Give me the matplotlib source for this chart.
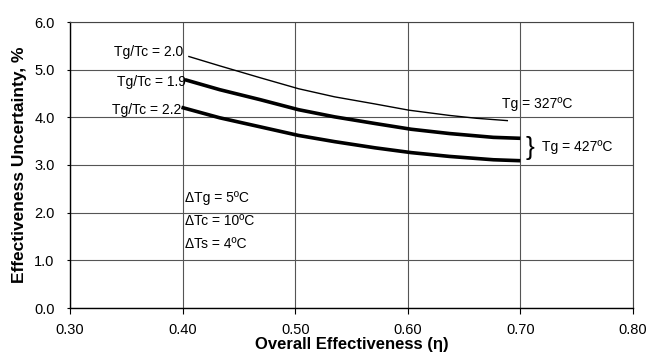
import matplotlib
matplotlib.use("Agg")
import matplotlib.pyplot as plt

plt.rcParams['font.family'] = ['Liberation Sans', 'DejaVu Sans']

# Effectiveness uncertainty (%) vs overall effectiveness
eta_20 = [0.405, 0.433, 0.469, 0.503, 0.535, 0.571, 0.601, 0.637, 0.661, 0.689]
unc_20 = [5.28, 5.08, 4.83, 4.60, 4.43, 4.28, 4.15, 4.04, 3.98, 3.93]   # Tg/Tc = 2.0, Tg = 327 C

eta_19 = [0.402, 0.433, 0.469, 0.503, 0.535, 0.571, 0.603, 0.637, 0.676, 0.700]
unc_19 = [4.79, 4.58, 4.37, 4.16, 4.01, 3.87, 3.75, 3.66, 3.58, 3.56]   # Tg/Tc = 1.9, Tg = 427 C

eta_22 = [0.399, 0.433, 0.469, 0.503, 0.535, 0.571, 0.603, 0.637, 0.676, 0.700]
unc_22 = [4.21, 3.99, 3.80, 3.62, 3.49, 3.36, 3.26, 3.18, 3.11, 3.09]   # Tg/Tc = 2.2, Tg = 427 C

x_ticks = [0.30, 0.40, 0.50, 0.60, 0.70, 0.80]
y_ticks = [0.0, 1.0, 2.0, 3.0, 4.0, 5.0, 6.0]

fig = plt.figure(figsize=(6.48, 3.54), dpi=100)
ax = fig.add_axes([70/648, 1-308/354, (633-70)/648, (308-22)/354])

line_kw = dict(color='black', solid_joinstyle='round', solid_capstyle='butt')
ax.plot(eta_20, unc_20, lw=1.0, **line_kw)
ax.plot(eta_19, unc_19, lw=2.6, **line_kw)
ax.plot(eta_22, unc_22, lw=2.6, **line_kw)

ax.set_xlim(0.30, 0.80)
ax.set_ylim(0.0, 6.0)
ax.set_xticks(x_ticks)
ax.set_xticklabels([f"{v:.2f}" for v in x_ticks], fontsize=10.5)
ax.set_yticks(y_ticks)
ax.set_yticklabels([f"{v:.1f}" for v in y_ticks], fontsize=10.5)
ax.tick_params(axis='x', direction='out', length=4, width=0.8, pad=7)
ax.tick_params(axis='y', direction='out', length=2, width=0.8, pad=9)

ax.grid(True, color='#555555', lw=0.8)
ax.set_axisbelow(True)
for s in ['left', 'bottom']:
    ax.spines[s].set_color('black')
    ax.spines[s].set_linewidth(1.0)
for s in ['top', 'right']:
    ax.spines[s].set_color('#444444')
    ax.spines[s].set_linewidth(0.8)
    ax.spines[s].set_linestyle((0, (1, 1)))

ax.set_xlabel("Overall Effectiveness (η)", fontsize=12, fontweight='bold', labelpad=0)
ax.set_ylabel("Effectiveness Uncertainty, %", fontsize=12.5, fontweight='bold', labelpad=5)

fs = 10
ax.text(0.4005, 5.37, "Tg/Tc = 2.0", fontsize=fs, ha='right', va='center')
ax.text(0.4030, 4.74, "Tg/Tc = 1.9", fontsize=fs, ha='right', va='center')
ax.text(0.3990, 4.15, "Tg/Tc = 2.2", fontsize=fs, ha='right', va='center')
ax.text(0.6835, 4.28, "Tg = 327ºC", fontsize=fs, ha='left', va='center')
ax.text(0.7045, 3.36, "}", fontsize=19, ha='left', va='center')
ax.text(0.7190, 3.37, "Tg = 427ºC", fontsize=fs, ha='left', va='center')
ax.text(0.4025, 2.31, "ΔTg = 5ºC", fontsize=fs, ha='left', va='center')
ax.text(0.4025, 1.82, "ΔTc = 10ºC", fontsize=fs, ha='left', va='center')
ax.text(0.4025, 1.34, "ΔTs = 4ºC", fontsize=fs, ha='left', va='center')

fig.savefig("out.png", dpi=100)
